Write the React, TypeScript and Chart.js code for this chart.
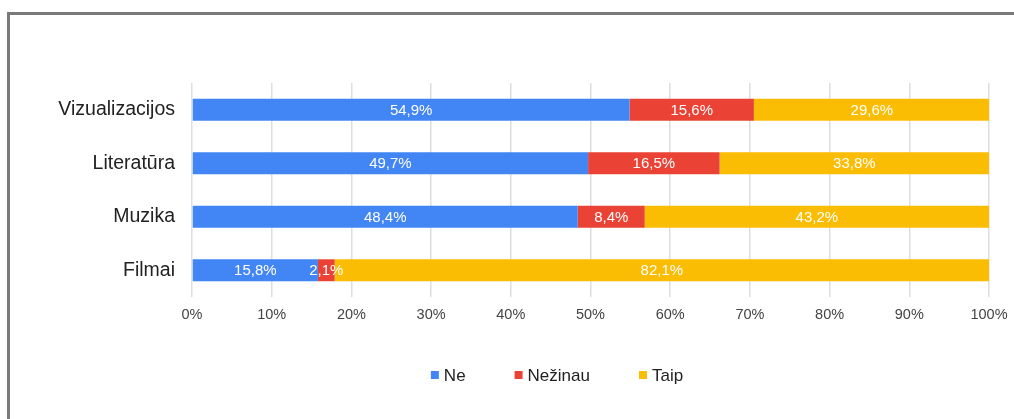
import React, { useEffect, useRef } from "react";
import { Chart, registerables } from "chart.js";

Chart.register(...registerables);

const categories = ["Vizualizacijos", "Literatūra", "Muzika", "Filmai"];
const seriesNames = ["Ne", "Nežinau", "Taip"];
const neValues = [54.9, 49.7, 48.4, 15.8];
const nezinauValues = [15.6, 16.5, 8.4, 2.1];
const taipValues = [29.6, 33.8, 43.2, 82.1];
const seriesColors = ["#4285F4", "#EA4335", "#FBBC04"];
const xTicks = [0, 10, 20, 30, 40, 50, 60, 70, 80, 90, 100];

const FONT = "'Liberation Sans', Arial, sans-serif";

const fmt = (v: number) => v.toFixed(1).replace(".", ",") + "%";

const barLabelPlugin = {
  id: "barLabels",
  afterDatasetsDraw(chart: any) {
    const ctx = chart.ctx;
    ctx.save();
    ctx.font = `15px ${FONT}`;
    ctx.fillStyle = "#ffffff";
    ctx.textAlign = "center";
    ctx.textBaseline = "middle";
    chart.data.datasets.forEach((ds: any, di: number) => {
      const meta = chart.getDatasetMeta(di);
      meta.data.forEach((el: any, i: number) => {
        const v = ds.data[i];
        const cx = (el.x + el.base) / 2;
        ctx.fillText(fmt(v), cx, el.y + 1);
      });
    });
    ctx.restore();
  },
};

const legendPlugin = {
  id: "customLegend",
  afterDraw(chart: any) {
    const ctx = chart.ctx;
    ctx.save();
    ctx.font = `17px ${FONT}`;
    ctx.textBaseline = "middle";
    ctx.textAlign = "left";
    const box = 8;
    const gap = 5;
    const spacing = 49;
    const items = chart.data.datasets.map((ds: any) => ({
      label: ds.label,
      color: ds.backgroundColor,
      w: ctx.measureText(ds.label).width,
    }));
    const total =
      items.reduce((s: number, it: any) => s + box + gap + it.w, 0) +
      spacing * (items.length - 1);
    let x = 557 - total / 2;
    const y = 375;
    items.forEach((it: any) => {
      ctx.fillStyle = it.color;
      ctx.fillRect(x, y - box / 2, box, box);
      ctx.fillStyle = "#222222";
      ctx.fillText(it.label, x + box + gap, y + 1);
      x += box + gap + it.w + spacing;
    });
    ctx.restore();
  },
};

export default function App() {
  const canvasRef = useRef<HTMLCanvasElement | null>(null);

  useEffect(() => {
    if (!canvasRef.current) return;
    const values = [neValues, nezinauValues, taipValues];
    const chart = new Chart(canvasRef.current, {
      type: "bar",
      data: {
        labels: categories,
        datasets: seriesNames.map((name, i) => ({
          label: name,
          data: values[i],
          backgroundColor: seriesColors[i],
          borderWidth: 0,
          barPercentage: 0.41,
          categoryPercentage: 1,
        })),
      },
      options: {
        indexAxis: "y",
        animation: false,
        responsive: false,
        devicePixelRatio: 1,
        layout: { padding: { top: 83, right: 25, left: 0, bottom: 92 } },
        plugins: {
          legend: { display: false },
          tooltip: { enabled: false },
        },
        scales: {
          x: {
            stacked: true,
            min: 0,
            max: 100,
            afterBuildTicks: (scale: any) => {
              scale.ticks = xTicks.map((v) => ({ value: v }));
            },
            afterFit: (scale: any) => {
              scale.height = 30;
              scale.paddingRight = 0;
              scale.paddingLeft = 0;
            },
            ticks: {
              callback: (v: any) => v + "%",
              font: { family: FONT, size: 14.5 },
              color: "#444444",
              padding: 9,
              maxRotation: 0,
            },
            grid: {
              color: "#dedede",
              lineWidth: 1.5,
              drawTicks: false,
            },
            border: { display: false },
          },
          y: {
            stacked: true,
            afterFit: (scale: any) => {
              scale.width = 192;
            },
            ticks: {
              font: { family: FONT, size: 19.5 },
              color: "#222222",
              padding: 17,
            },
            grid: { display: false, drawTicks: false },
            border: { display: false },
          },
        },
      },
      plugins: [barLabelPlugin, legendPlugin],
    });
    return () => chart.destroy();
  }, []);

  return (
    <div
      style={{
        position: "fixed",
        left: 0,
        top: 0,
        width: 1014,
        height: 419,
        overflow: "hidden",
        background: "#ffffff",
      }}
    >
      <div
        style={{
          position: "absolute",
          left: 7,
          top: 12,
          width: 1100,
          height: 500,
          borderLeft: "3px solid #7a7a7a",
          borderTop: "3px solid #7a7a7a",
          boxSizing: "border-box",
        }}
      />
      <canvas
        ref={canvasRef}
        width={1014}
        height={419}
        style={{ position: "absolute", left: 0, top: 0 }}
      />
    </div>
  );
}
